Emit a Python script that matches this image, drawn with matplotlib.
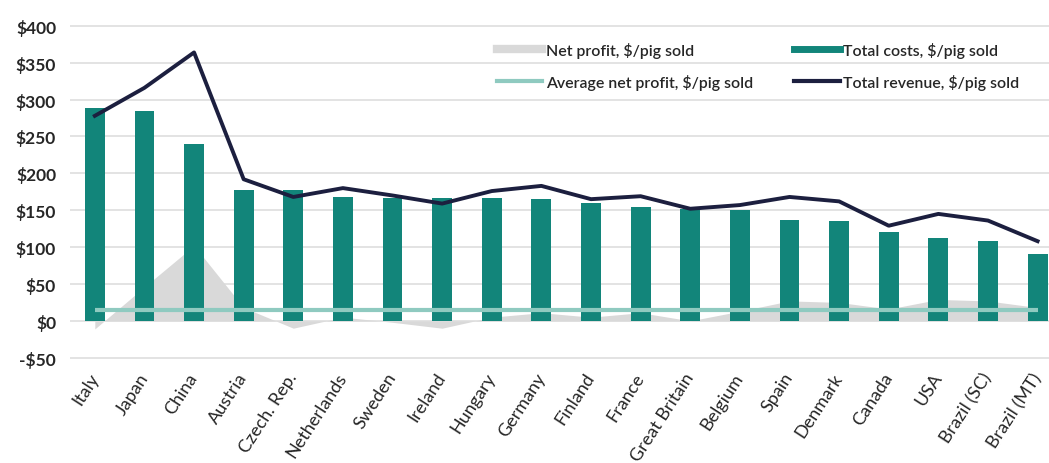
import matplotlib.pyplot as plt
from matplotlib.lines import Line2D
from matplotlib.ticker import FuncFormatter

plt.rcParams['font.family'] = ['Lato', 'DejaVu Sans']

# data
countries = ['Italy', 'Japan', 'China', 'Austria', 'Czech. Rep.', 'Netherlands', 'Sweden',
             'Ireland', 'Hungary', 'Germany', 'Finland', 'France', 'Great Britain', 'Belgium',
             'Spain', 'Denmark', 'Canada', 'USA', 'Brazil (SC)', 'Brazil (MT)']
total_costs = [288, 285, 240, 178, 177, 168, 166, 166, 167, 165,
               160, 154, 152, 150, 137, 135, 121, 112, 108, 91]
total_revenue = [278, 316, 364, 192, 168, 180, 170, 159, 176, 183,
                 165, 169, 152, 157, 168, 162, 129, 145, 136, 108]
net_profit = [-11, 46, 102, 18, -10, 5, -2, -10, 5, 11,
              5, 11, 0, 13, 27, 25, 16, 29, 27, 18]
avg_net_profit = [15] * len(countries)

teal = '#12857a'
navy = '#1c1f3f'
light_teal = '#8fcac0'
grey = '#d9d9d9'
text_col = '#262626'

fig = plt.figure(figsize=(10.49, 4.64), dpi=100)
ax = fig.add_axes([70 / 1049, 0.219, 979 / 1049, 0.731])

x = list(range(len(countries)))

ax.fill_between(x, net_profit, color=grey, lw=0, zorder=1)
ax.bar(x, total_costs, width=0.4, color=teal, zorder=2)
ax.plot(x, avg_net_profit, color=light_teal, lw=3, zorder=3, solid_capstyle='butt')
ax.plot(x, total_revenue, color=navy, lw=2.8, zorder=4)

ax.set_xlim(-0.5, 19.23)
ax.set_ylim(-55, 405)
ax.set_yticks(range(-50, 401, 50))
ax.yaxis.set_major_formatter(FuncFormatter(lambda v, p: f'-${-int(v)}' if v < 0 else f'${int(v)}'))
ax.grid(axis='y', color='#e3e3e3', lw=1.4, zorder=0)
ax.set_axisbelow(True)
for s in ax.spines.values():
    s.set_visible(False)

ax.set_xticks(x)
ax.set_xticklabels(countries, rotation=57, ha='right', va='center', rotation_mode='anchor',
                   fontsize=13, color=text_col)
ax.tick_params(axis='x', length=0, pad=9)
ax.tick_params(axis='y', length=0, pad=10, labelsize=12.5, labelcolor=text_col)
for lbl in ax.get_yticklabels():
    lbl.set_fontweight('bold')

handles = [
    Line2D([], [], color=grey, lw=6),
    Line2D([], [], color=light_teal, lw=3),
    Line2D([], [], color=teal, lw=5),
    Line2D([], [], color=navy, lw=3),
]
labels = ['Net profit, $/pig sold', 'Average net profit, $/pig sold',
          'Total costs, $/pig sold', 'Total revenue, $/pig sold']
leg = ax.legend(handles, labels, ncol=2, frameon=False, fontsize=11.4,
                loc='upper left', bbox_to_anchor=(497 / 1049, 1 - 43 / 464),
                bbox_transform=fig.transFigure, handlelength=2.85, handletextpad=0.25,
                columnspacing=2.6, labelspacing=1.0, borderaxespad=0, borderpad=0)
for t in leg.get_texts():
    t.set_fontweight('semibold')
    t.set_color(text_col)

fig.savefig('out.png', dpi=100)
